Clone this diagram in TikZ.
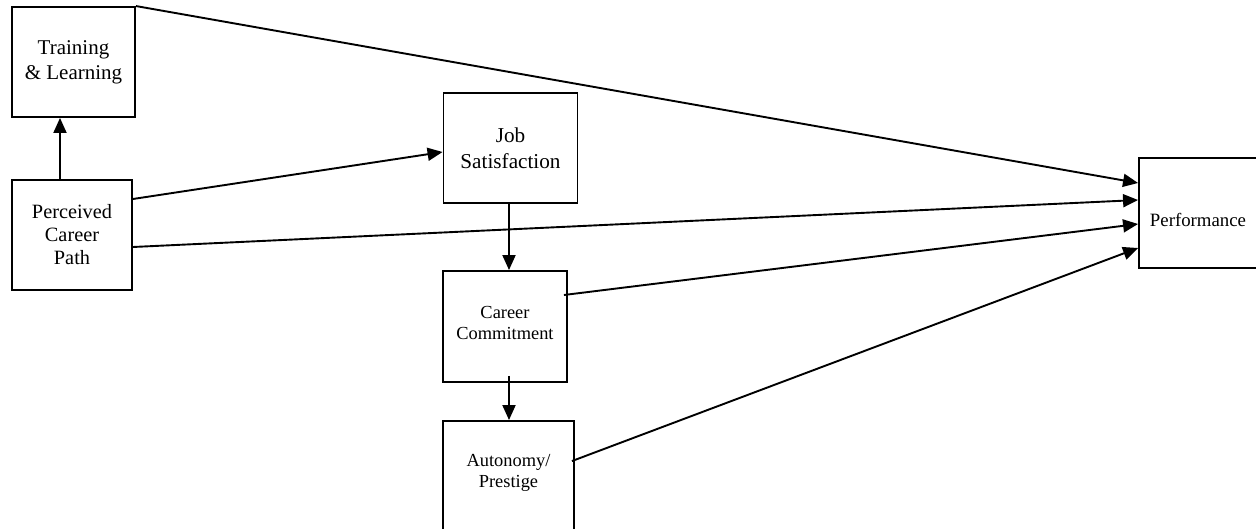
\documentclass[tikz,border=0pt]{standalone}
\usepackage{fontspec}
\setmainfont{Liberation Serif}
\usetikzlibrary{arrows.meta,calc}
\begin{document}
\begin{tikzpicture}[x=1pt,y=-1pt,
  box/.style={draw, line width=1.9pt, rectangle, inner sep=0pt, align=center},
  lbl/.style={align=center, inner sep=0pt},
  arr/.style={line width=1.9pt, -{Triangle[length=15pt,width=13pt]}},
  big/.style={font=\fontsize{21}{25}\selectfont},
  mid/.style={font=\fontsize{18.4}{21.5}\selectfont}]
\useasboundingbox (0,0) rectangle (1256,529);

\node[box,big,minimum width=123pt,minimum height=110pt] (train) at (73.5,62) {Training\\\& Learning};
\node[box,font=\fontsize{20.3}{23}\selectfont,minimum width=120pt,minimum height=110pt] (perc) at (72,235) {Perceived\\Career\\Path};
\node[box,font=\fontsize{21.2}{26}\selectfont,minimum width=134pt,minimum height=110pt] (job) at (510.5,148) {Job\\Satisfaction};
\node[box,minimum width=124pt,minimum height=111pt] (career) at (505,326.5) {};
\node[lbl,mid] (careertext) at (505,323) {Career\\Commitment};
\node[box,minimum width=131pt,minimum height=140pt] (auto) at (508.5,491) {};
\node[lbl,mid] (autotext) at (508.5,473) {Autonomy/\\Prestige};
\node[box,minimum width=120pt,minimum height=110pt] (perf) at (1199,213) {};
\node[lbl,font=\fontsize{18.8}{22}\selectfont] (perftext) at (1198,219.5) {Performance};

\coordinate (js) at ($(job.south)+(-1.5,0)$);
\coordinate (cs) at ($(career.south)+(4,-7)$);

\draw[arr] ($(perc.north)+(-12,0)$) -- ($(train.south)+(-13.5,0)$);
\draw[arr] (train.north east) -- ($(perf.west)+(0,-30)$);
\draw[arr] ($(perc.east)+(0,-36)$) -- ($(job.west)+(0,4)$);
\draw[arr] ($(perc.east)+(0,12)$) -- ($(perf.west)+(0,-13)$);
\draw[arr] (js) -- (js |- career.north);
\draw[arr] ($(career.east)+(-4,-31.5)$) -- ($(perf.west)+(0,11)$);
\draw[arr] (cs) -- (cs |- auto.north);
\draw[arr] ($(auto.north east)+(-3,41)$) -- ($(perf.west)+(0,35)$);
\end{tikzpicture}
\end{document}
